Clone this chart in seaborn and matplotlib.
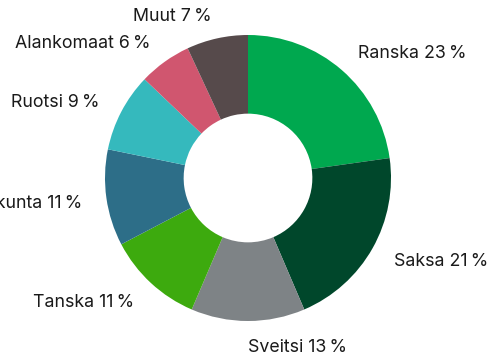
import matplotlib
matplotlib.use("Agg")
import matplotlib.pyplot as plt
import seaborn as sns
import numpy as np

labels = ["Ranska", "Saksa", "Sveitsi", "Tanska", "Yhdistynyt kuningaskunta",
          "Ruotsi", "Alankomaat", "Muut"]
shares = [23, 21, 13, 11, 11, 9, 6, 7]
colors = ["#00A84F", "#00472B", "#7E8386", "#3DAA0E", "#2D6E88",
          "#35B9BD", "#D0566F", "#564A4B"]

sns.set_theme(style="white")
plt.rcParams["font.family"] = ["Inter", "DejaVu Sans"]

W, H, DPI = 487, 358, 100
fig = plt.figure(figsize=(W / DPI, H / DPI), dpi=DPI)
ax = fig.add_axes([0, 0, 1, 1])

R_PX = 143
cx, cy = 248, 180  # centre in pixels from the left / bottom
wedges, _ = ax.pie(shares, colors=colors, startangle=90, counterclock=False,
                   radius=1.0, wedgeprops=dict(width=0.55, edgecolor="none"))

total = sum(shares)
cum = 0
for lab, v in zip(labels, shares):
    mid = cum + v / 2
    cum += v
    ang = np.deg2rad(90 - 360 * mid / total)
    r = 1.17
    x, y = r * np.cos(ang), r * np.sin(ang) - 0.012
    ha = "left" if np.cos(ang) > -0.02 else "right"
    ax.text(x, y, f"{lab} {v}\u2009%", ha=ha, va="center",
            fontsize=12.8, color="#1a1a1a")

ax.set_xlim(-cx / R_PX, (W - cx) / R_PX)
ax.set_ylim(-cy / R_PX, (H - cy) / R_PX)
ax.set_aspect("equal")
ax.axis("off")

fig.savefig("out.png", dpi=DPI)
